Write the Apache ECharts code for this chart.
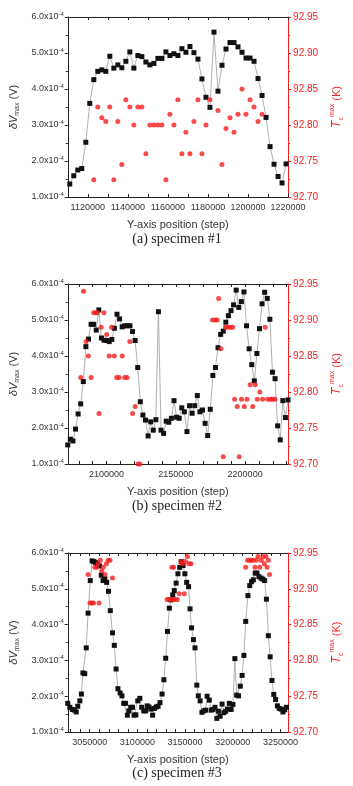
<!DOCTYPE html>
<html><head><meta charset="utf-8">
<script src="https://cdn.jsdelivr.net/npm/echarts@6/dist/echarts.min.js"></script>
<style>html,body{margin:0;padding:0;background:#fff}#c{width:353px;height:786px}</style>
</head><body><div id="c"></div>
<script>
// ---------- Panel (a) specimen #1 ----------
const X1 = [1111000,1113000,1115000,1117000,1119000,1121000,1123000,1125000,1127000,1129000,1131000,1133000,1135000,1137000,1139000,1141000,1143000,1145000,1147000,1149000,1151000,1153000,1155000,1157000,1159000,1161000,1163000,1165000,1167000,1169000,1171000,1173000,1175000,1177000,1179000,1181000,1183000,1185000,1187000,1189000,1191000,1193000,1195000,1197000,1199000,1201000,1203000,1205000,1207000,1209000,1211000,1213000,1215000,1217000,1219000];
// dV_max in units of 1e-4 V
const V1 = [1.36,1.59,1.75,1.79,2.52,3.60,4.26,4.49,4.53,4.49,4.91,4.58,4.67,4.59,4.77,5.03,4.58,4.93,4.90,4.75,4.67,4.71,4.85,4.85,5.03,4.93,4.98,4.93,5.12,5.02,5.18,5.01,4.83,4.28,3.77,3.49,5.58,3.94,4.66,5.11,5.29,5.29,5.17,5.02,4.86,4.86,4.77,4.29,3.82,3.21,2.40,1.91,1.57,1.39,1.92];
const RX1 = [1123000,1125000,1127000,1129000,1131000,1133000,1135000,1137000,1139000,1141000,1143000,1145000,1147000,1149000,1151000,1153000,1155000,1157000,1159000,1161000,1163000,1165000,1167000,1169000,1171000,1173000,1175000,1177000,1179000,1181000,1185000,1187000,1189000,1191000,1193000,1195000,1197000,1199000,1201000,1203000,1205000,1207000];
const RT1 = [92.724,92.825,92.81,92.805,92.825,92.724,92.805,92.745,92.835,92.825,92.80,92.825,92.825,92.76,92.80,92.80,92.80,92.80,92.724,92.815,92.80,92.835,92.76,92.79,92.76,92.805,92.835,92.76,92.80,92.835,92.82,92.745,92.795,92.81,92.79,92.815,92.85,92.815,92.835,92.825,92.805,92.815];
const XLAB1 = [1120000,1140000,1160000,1180000,1200000,1220000];
const XTICK1 = [1110000,1120000,1130000,1140000,1150000,1160000,1170000,1180000,1190000,1200000,1210000,1220000];

// ---------- Panel (b) specimen #2 ----------
const X2 = [2072000,2073870,2075740,2077610,2079480,2081350,2083220,2085090,2086960,2088830,2090700,2092570,2094440,2096310,2098180,2100050,2101920,2103790,2105660,2107530,2109400,2111270,2113140,2115010,2116880,2118750,2120620,2122490,2124360,2126230,2128100,2129970,2131840,2133710,2135580,2137450,2139320,2141190,2143060,2144930,2146800,2148670,2150540,2152410,2154280,2156150,2158020,2159890,2161760,2163630,2165500,2167370,2169240,2171110,2172980,2174850,2176720,2178590,2180460,2182330,2184200,2186070,2187940,2189810,2191680,2193550,2195420,2197290,2199160,2201030,2202900,2204770,2206640,2208510,2210380,2212250,2214120,2215990,2217860,2219730,2221600,2223470,2225340,2227210,2229080,2230950];
const V2 = [1.53,1.69,1.64,1.97,2.39,2.67,3.29,4.26,4.47,4.88,4.88,4.72,5.28,4.50,4.44,4.43,4.40,4.46,4.77,5.16,5.03,4.81,4.84,4.84,4.84,4.68,4.43,3.68,2.73,2.36,2.22,1.78,2.17,1.94,2.23,5.23,1.94,1.85,2.19,2.16,2.27,2.76,2.30,2.27,2.56,2.45,1.90,2.62,2.41,2.62,2.90,2.45,2.50,2.13,1.79,2.52,3.46,3.68,4.23,4.60,4.69,4.94,5.12,5.26,5.42,5.83,5.35,5.51,5.78,4.84,4.20,3.76,3.31,4.07,4.76,5.45,5.77,5.60,5.02,3.55,3.37,2.06,1.67,2.76,2.29,2.78];
const RX2 = [2081400,2083400,2085200,2086900,2088900,2090700,2092200,2093300,2094600,2096100,2098100,2100100,2101900,2103600,2105600,2107300,2109100,2111300,2113100,2114800,2116800,2118800,2120700,2122700,2124000,2176500,2178300,2179800,2180900,2182500,2184200,2185800,2187500,2189300,2191000,2192400,2194300,2195700,2197400,2199400,2201400,2203600,2205500,2207300,2208800,2210600,2212600,2214500,2216300,2218300,2219800,2221600];
const RT2 = [92.82,92.94,92.87,92.85,92.82,92.91,92.91,92.91,92.77,92.89,92.91,92.88,92.85,92.89,92.85,92.82,92.82,92.85,92.82,92.82,92.87,92.77,92.78,92.70,92.70,92.90,92.90,92.90,92.93,92.86,92.71,92.89,92.89,92.89,92.89,92.79,92.78,92.71,92.79,92.78,92.79,92.81,92.78,92.81,92.79,92.80,92.79,92.89,92.79,92.79,92.79,92.79];
const XLAB2 = [2100000,2150000,2200000];
const XTICK2 = [2080000,2090000,2100000,2110000,2120000,2130000,2140000,2150000,2160000,2170000,2180000,2190000,2200000,2210000,2220000,2230000];

// ---------- Panel (c) specimen #3 ----------
const X3 = [3027000,3029200,3031800,3034000,3035900,3037500,3039700,3041300,3042900,3044800,3046400,3048300,3050600,3052500,3054400,3056300,3058200,3060200,3062100,3064000,3065900,3067800,3069700,3071600,3073900,3075800,3077700,3079600,3081900,3083800,3085700,3087600,3089500,3091100,3093000,3094900,3096500,3098400,3100400,3102600,3104500,3106700,3108700,3110300,3112200,3114100,3116000,3117900,3119800,3121700,3123700,3125900,3127800,3129700,3131600,3133500,3135100,3137100,3138700,3140600,3142500,3144400,3146000,3147900,3149800,3151700,3153700,3155200,3156800,3158800,3160400,3162300,3163900,3165800,3167700,3169600,3171500,3173100,3175400,3177300,3179200,3181400,3183300,3184900,3186800,3188800,3190700,3192600,3194500,3196400,3198300,3200200,3202200,3204100,3206000,3207900,3209800,3211700,3213600,3215900,3217800,3219700,3221600,3223500,3225400,3227400,3229600,3231500,3233400,3235300,3237300,3239200,3241100,3243000,3244900,3246800,3248700,3250700,3252600,3254500,3256400];
const V3 = [1.80,1.69,1.63,1.61,1.56,1.72,1.87,2.06,2.65,2.63,3.35,4.32,5.23,5.78,5.76,5.73,5.69,5.64,5.38,5.23,5.28,5.18,4.93,4.39,3.77,3.42,2.76,2.21,2.09,2.01,1.80,1.80,1.47,1.59,1.69,1.69,1.47,1.48,1.87,1.94,1.69,1.59,1.59,1.73,1.70,1.64,1.47,1.66,1.70,1.72,1.82,2.06,2.46,3.06,3.81,4.46,4.69,4.83,4.95,5.16,5.42,5.60,5.76,5.65,5.42,5.18,5.06,4.44,3.91,3.58,3.35,2.31,2.01,1.87,1.55,1.59,1.61,2.00,1.89,1.61,1.63,1.69,1.38,1.58,1.44,1.78,1.54,1.58,1.64,1.80,1.63,1.77,3.05,2.03,2.01,2.28,2.58,3.14,4.09,4.81,5.09,5.20,5.25,5.44,5.44,5.34,5.30,5.27,5.23,4.71,3.69,3.10,2.44,2.05,1.91,1.73,1.66,1.64,1.56,1.62,1.69];
const RX3 = [3048300,3050300,3052200,3054100,3055400,3057300,3058900,3059800,3061100,3062700,3064300,3066200,3067500,3069400,3071300,3073900,3131300,3133200,3134800,3136100,3137700,3138000,3139600,3141800,3143800,3145700,3147300,3149200,3150500,3152400,3154000,3156200,3213600,3215600,3217500,3219400,3221300,3223200,3224800,3226400,3228300,3229900,3231500,3233100,3234700,3236000,3237300,3238500];
const RT3 = [92.92,92.88,92.88,92.88,92.93,92.93,92.935,92.88,92.94,92.925,92.93,92.92,92.935,92.94,92.94,92.915,92.885,92.885,92.885,92.93,92.885,92.93,92.885,92.885,92.893,92.938,92.935,92.893,92.938,92.945,92.935,92.935,92.93,92.94,92.94,92.94,92.94,92.93,92.94,92.945,92.93,92.94,92.945,92.935,92.945,92.93,92.94,92.92];
const XLAB3 = [3050000,3100000,3150000,3200000,3250000];
const XTICK3 = [3030000,3040000,3050000,3060000,3070000,3080000,3090000,3100000,3110000,3120000,3130000,3140000,3150000,3160000,3170000,3180000,3190000,3200000,3210000,3220000,3230000,3240000,3250000];

const CAPTIONS = ['(a) specimen #1','(b) specimen #2','(c) specimen #3'];
const X_TITLE = 'Y-axis position (step)';

const SANS = 'Liberation Sans, Arial, sans-serif';
const SERIF = 'Liberation Serif, Times New Roman, serif';
const RED = '#f51f1f';
const DARK = '#222';

const panels = [
  {top:17, height:180, xmin:1110000, xmax:1220000, lab:XLAB1, tick:XTICK1, X:X1, V:V1, RX:RX1, RT:RT1, cap:CAPTIONS[0], capY:239},
  {top:284, height:180, xmin:2072000, xmax:2231000, lab:XLAB2, tick:XTICK2, X:X2, V:V2, RX:RX2, RT:RT2, cap:CAPTIONS[1], capY:506},
  {top:553, height:179, xmin:3027000, xmax:3258000, lab:XLAB3, tick:XTICK3, X:X3, V:V3, RX:RX3, RT:RT3, cap:CAPTIONS[2], capY:773}
];

const grid = [], xAxis = [], yAxis = [], series = [], graphic = [];
panels.forEach((p, i) => {
  grid.push({left:62, width:241, top:p.top, height:p.height, containLabel:false});
  xAxis.push({
    gridIndex:i, type:'value', position:'bottom', min:p.xmin, max:p.xmax,
    axisLine:{show:true, onZero:false, lineStyle:{color:DARK, width:1}},
    axisTick:{show:true, inside:true, length:3, customValues:p.tick, lineStyle:{color:DARK}},
    axisLabel:{show:true, customValues:p.lab, formatter:v=>String(v), color:'#333', fontSize:9, fontFamily:SANS, margin:6},
    splitLine:{show:false},
    name:X_TITLE, nameLocation:'middle', nameGap:22,
    nameTextStyle:{color:'#333', fontSize:11, fontFamily:SANS}
  });
  xAxis.push({
    gridIndex:i, type:'value', position:'top', min:p.xmin, max:p.xmax,
    axisLine:{show:true, onZero:false, lineStyle:{color:DARK, width:1}},
    axisTick:{show:true, inside:true, length:3, customValues:p.tick, lineStyle:{color:DARK}},
    axisLabel:{show:false}, splitLine:{show:false}
  });
  yAxis.push({
    gridIndex:i, type:'value', position:'left', min:1, max:6, interval:1,
    axisLine:{show:true, onZero:false, lineStyle:{color:DARK, width:1}},
    axisTick:{show:true, inside:false, length:3, lineStyle:{color:DARK}},
    minorTick:{show:true, splitNumber:2, length:2, lineStyle:{color:DARK}},
    splitLine:{show:false},
    axisLabel:{
      formatter:v=>v.toFixed(1)+'x10{sup|-4}', color:'#333', fontSize:9, fontFamily:SANS, margin:4, lineHeight:12,
      rich:{sup:{fontSize:6, fontFamily:SANS, color:'#333', verticalAlign:'top', lineHeight:8}}
    },
    name:'{i|δV}{sub|max}{n| (V)}', nameLocation:'middle', nameRotate:90, nameGap:42,
    nameTextStyle:{color:'#333', fontSize:11, fontFamily:SANS,
      rich:{
        i:{fontSize:11, fontStyle:'italic', fontFamily:SANS, color:'#333', lineHeight:14},
        sub:{fontSize:7, fontFamily:SANS, color:'#333', verticalAlign:'bottom', lineHeight:10},
        n:{fontSize:11, fontFamily:SANS, color:'#333', lineHeight:14}
      }}
  });
  yAxis.push({
    gridIndex:i, type:'value', position:'right', min:92.70, max:92.95, interval:0.05,
    axisLine:{show:true, onZero:false, lineStyle:{color:RED, width:1}},
    axisTick:{show:true, inside:false, length:3, lineStyle:{color:RED}},
    minorTick:{show:true, splitNumber:2, length:2, lineStyle:{color:RED}},
    splitLine:{show:false},
    axisLabel:{formatter:v=>v.toFixed(2), color:RED, fontSize:10, fontFamily:SANS, margin:5},
    name:'{i|T}{sub|c}{sup|max}{n| (K)}', nameLocation:'middle', nameRotate:90, nameGap:34,
    nameTextStyle:{color:RED, fontSize:11, fontFamily:SANS,
      rich:{
        i:{fontSize:12, fontStyle:'italic', fontFamily:SANS, color:RED, lineHeight:16},
        sub:{fontSize:7, fontFamily:SANS, color:RED, verticalAlign:'bottom', lineHeight:10},
        sup:{fontSize:7, fontFamily:SANS, color:RED, verticalAlign:'top', lineHeight:10},
        n:{fontSize:11, fontFamily:SANS, color:RED, lineHeight:16}
      }}
  });
  series.push({
    type:'line', xAxisIndex:2*i, yAxisIndex:2*i,
    data:p.X.map((x,k)=>[x, p.V[k]]),
    symbol:'rect', symbolSize:5, showAllSymbol:true,
    lineStyle:{color:'#b0b0b0', width:1}, itemStyle:{color:'#111'},
    z:2, animation:false
  });
  series.push({
    type:'scatter', xAxisIndex:2*i, yAxisIndex:2*i+1,
    data:p.RX.map((x,k)=>[x, p.RT[k]]),
    symbol:'circle', symbolSize:5, itemStyle:{color:RED},
    z:3, animation:false
  });
  graphic.push({
    type:'text', x:177, y:p.capY,
    style:{text:p.cap, fill:'#222', font:'14px ' + SERIF, align:'center', verticalAlign:'middle'}
  });
});

const chart = echarts.init(document.getElementById('c'));
chart.setOption({animation:false, grid, xAxis, yAxis, series, graphic});
</script></body></html>
